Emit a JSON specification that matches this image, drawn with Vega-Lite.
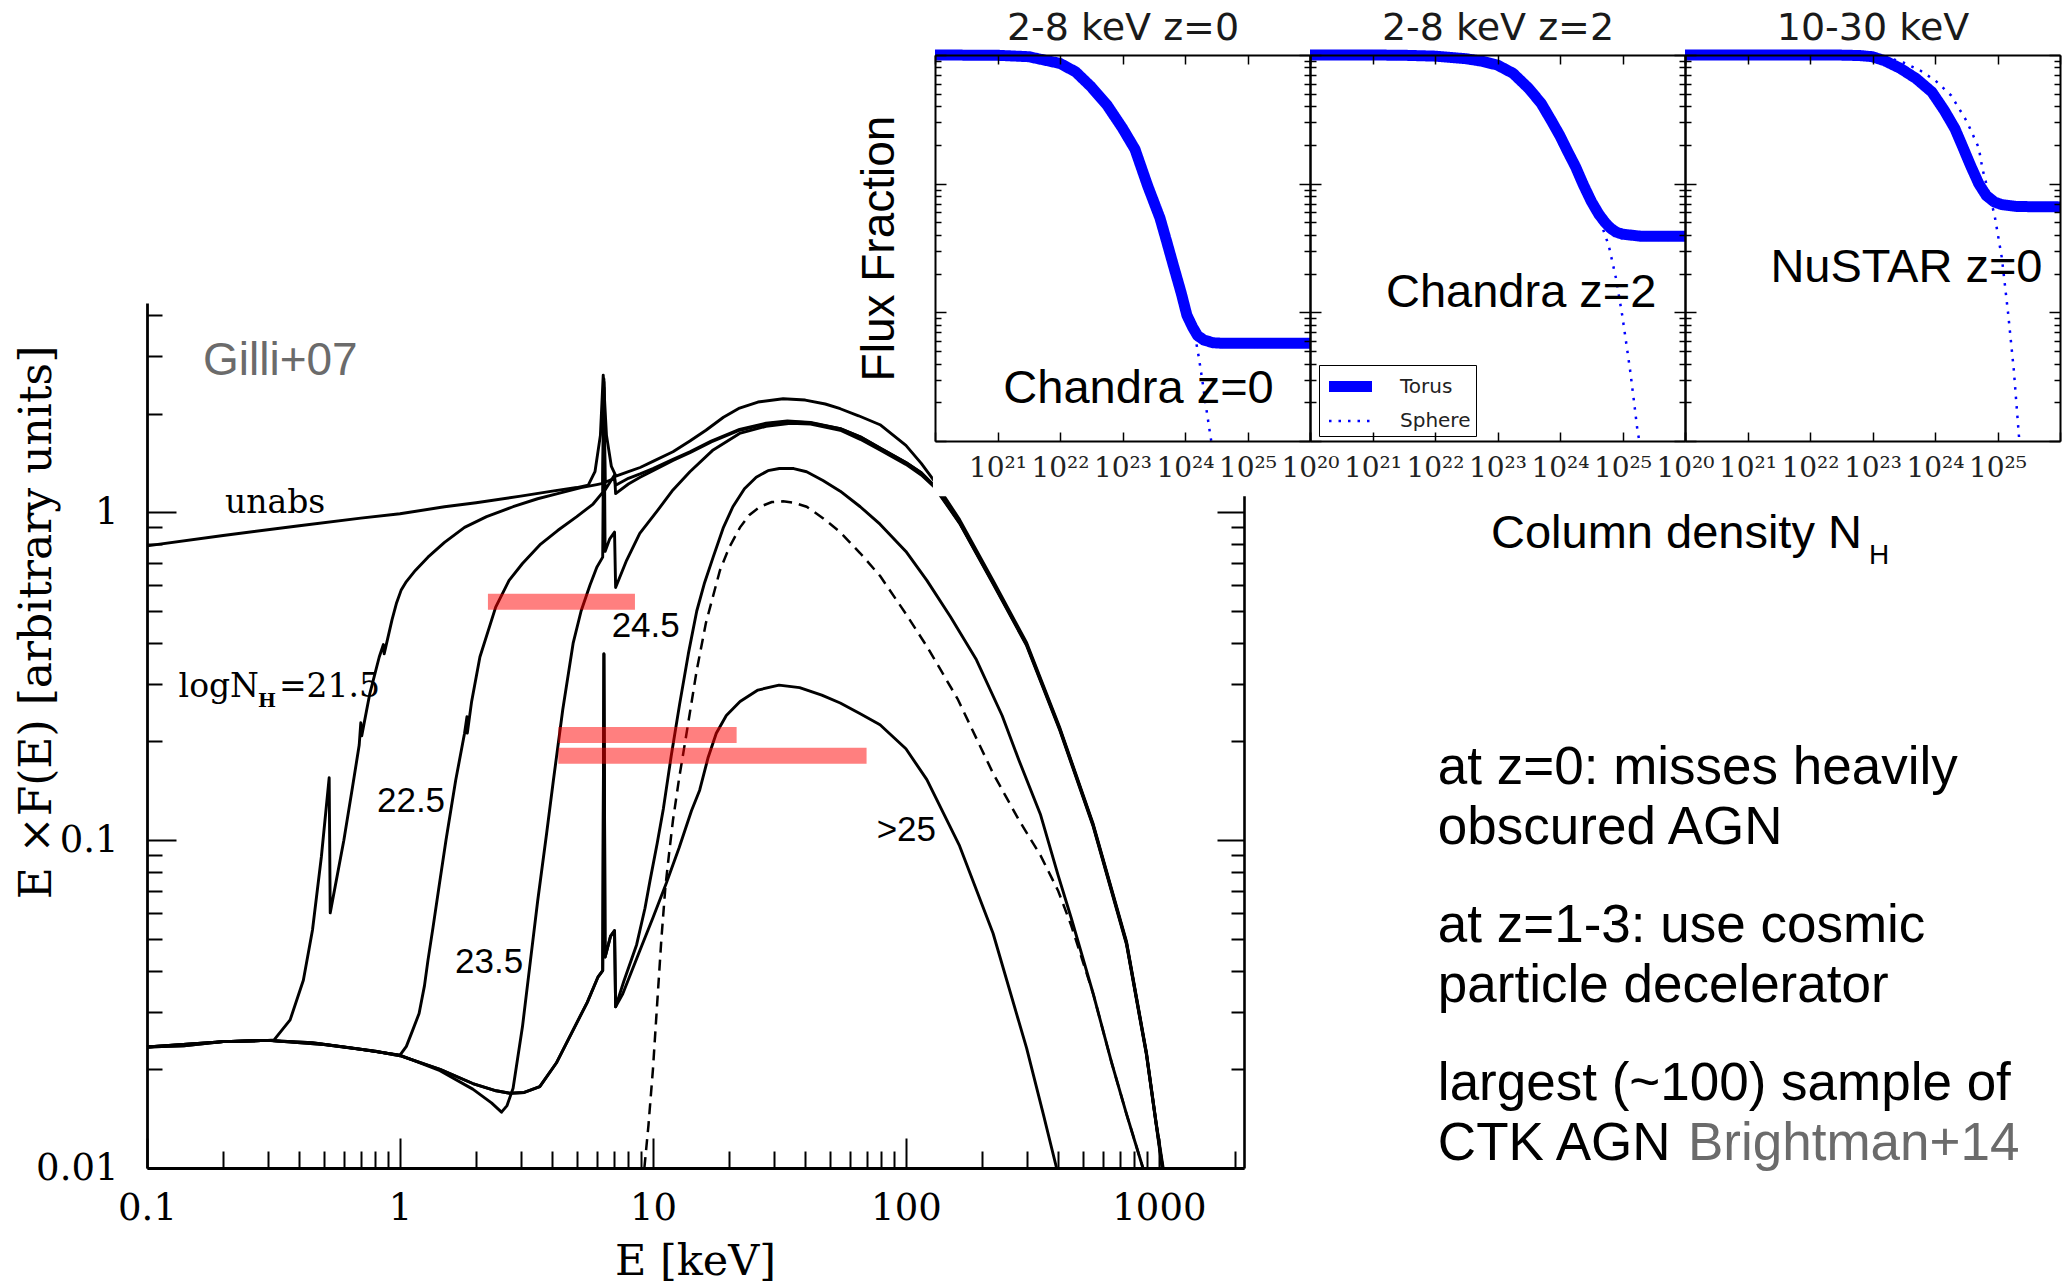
{
"$schema": "https://vega.github.io/schema/vega-lite/v6.json",
"width": 2064,
"height": 1287,
"autosize": {"type": "none"},
"padding": 0,
"background": "white",
"config": {
  "view": {"stroke": null},
  "font": "Liberation Sans",
  "axis": {"grid": false, "domainColor": "black", "tickColor": "black", "labelColor": "black", "titleColor": "black", "titleFontWeight": "normal", "labelOverlap": false, "labelFlush": false}
},
"datasets": {
  "spec": [
    {"curve":"unabs","E":0.1,"V":0.79},{"curve":"unabs","E":0.2,"V":0.85},{"curve":"unabs","E":0.4,"V":0.91},{"curve":"unabs","E":0.7,"V":0.96},{"curve":"unabs","E":1,"V":0.99},{"curve":"unabs","E":1.5,"V":1.04},{"curve":"unabs","E":2,"V":1.07},{"curve":"unabs","E":3,"V":1.12},{"curve":"unabs","E":4,"V":1.16},{"curve":"unabs","E":5,"V":1.19},{"curve":"unabs","E":5.55,"V":1.21},{"curve":"unabs","E":5.9,"V":1.33},{"curve":"unabs","E":6.2,"V":1.72},{"curve":"unabs","E":6.36,"V":2.62},{"curve":"unabs","E":6.55,"V":1.72},{"curve":"unabs","E":6.85,"V":1.38},{"curve":"unabs","E":7.14,"V":1.29},{"curve":"unabs","E":8,"V":1.33},{"curve":"unabs","E":8.9,"V":1.37},{"curve":"unabs","E":10,"V":1.43},{"curve":"unabs","E":12,"V":1.53},{"curve":"unabs","E":14,"V":1.65},{"curve":"unabs","E":16.2,"V":1.78},{"curve":"unabs","E":19,"V":1.95},{"curve":"unabs","E":22,"V":2.08},{"curve":"unabs","E":26,"V":2.17},{"curve":"unabs","E":32.7,"V":2.22},{"curve":"unabs","E":40,"V":2.2},{"curve":"unabs","E":48,"V":2.14},{"curve":"unabs","E":55,"V":2.07},{"curve":"unabs","E":65,"V":1.97},{"curve":"unabs","E":79,"V":1.85},{"curve":"unabs","E":100,"V":1.6},{"curve":"unabs","E":115,"V":1.41},{"curve":"unabs","E":130,"V":1.24},{"curve":"unabs","E":163,"V":0.95},{"curve":"unabs","E":221,"V":0.62},{"curve":"unabs","E":300,"V":0.4},{"curve":"unabs","E":406,"V":0.22},{"curve":"unabs","E":550,"V":0.112},{"curve":"unabs","E":745,"V":0.049},{"curve":"unabs","E":893,"V":0.0225},{"curve":"unabs","E":975,"V":0.0138},{"curve":"unabs","E":1040,"V":0.01},
    {"curve":"nh21.5","E":0.1,"V":0.0234},{"curve":"nh21.5","E":0.2,"V":0.0243},{"curve":"nh21.5","E":0.3,"V":0.0245},{"curve":"nh21.5","E":0.318,"V":0.0246},{"curve":"nh21.5","E":0.368,"V":0.0283},{"curve":"nh21.5","E":0.415,"V":0.0374},{"curve":"nh21.5","E":0.451,"V":0.0532},{"curve":"nh21.5","E":0.489,"V":0.089},{"curve":"nh21.5","E":0.525,"V":0.155},{"curve":"nh21.5","E":0.53,"V":0.06},{"curve":"nh21.5","E":0.6,"V":0.1},{"curve":"nh21.5","E":0.649,"V":0.145},{"curve":"nh21.5","E":0.69,"V":0.195},{"curve":"nh21.5","E":0.7,"V":0.228},{"curve":"nh21.5","E":0.706,"V":0.208},{"curve":"nh21.5","E":0.76,"V":0.28},{"curve":"nh21.5","E":0.828,"V":0.362},{"curve":"nh21.5","E":0.86,"V":0.395},{"curve":"nh21.5","E":0.866,"V":0.37},{"curve":"nh21.5","E":0.93,"V":0.47},{"curve":"nh21.5","E":0.97,"V":0.53},{"curve":"nh21.5","E":1.01,"V":0.578},{"curve":"nh21.5","E":1.06,"V":0.615},{"curve":"nh21.5","E":1.15,"V":0.665},{"curve":"nh21.5","E":1.29,"V":0.73},{"curve":"nh21.5","E":1.5,"V":0.81},{"curve":"nh21.5","E":1.8,"V":0.9},{"curve":"nh21.5","E":2.2,"V":0.97},{"curve":"nh21.5","E":2.8,"V":1.04},{"curve":"nh21.5","E":3.5,"V":1.1},{"curve":"nh21.5","E":4.2,"V":1.14},{"curve":"nh21.5","E":5.2,"V":1.19},{"curve":"nh21.5","E":6,"V":1.215},{"curve":"nh21.5","E":6.33,"V":1.225},{"curve":"nh21.5","E":6.4,"V":2.55},{"curve":"nh21.5","E":6.47,"V":1.235},{"curve":"nh21.5","E":7.05,"V":1.27},{"curve":"nh21.5","E":7.12,"V":1.21},{"curve":"nh21.5","E":8,"V":1.27},{"curve":"nh21.5","E":8.9,"V":1.31},{"curve":"nh21.5","E":10,"V":1.36},{"curve":"nh21.5","E":12,"V":1.45},{"curve":"nh21.5","E":14,"V":1.53},{"curve":"nh21.5","E":17,"V":1.65},{"curve":"nh21.5","E":22,"V":1.79},{"curve":"nh21.5","E":28,"V":1.87},{"curve":"nh21.5","E":34,"V":1.9},{"curve":"nh21.5","E":42,"V":1.88},{"curve":"nh21.5","E":55,"V":1.8},{"curve":"nh21.5","E":66,"V":1.7},{"curve":"nh21.5","E":79,"V":1.57},{"curve":"nh21.5","E":100,"V":1.42},{"curve":"nh21.5","E":115,"V":1.32},{"curve":"nh21.5","E":130,"V":1.2},{"curve":"nh21.5","E":163,"V":0.93},{"curve":"nh21.5","E":221,"V":0.61},{"curve":"nh21.5","E":300,"V":0.395},{"curve":"nh21.5","E":406,"V":0.218},{"curve":"nh21.5","E":550,"V":0.111},{"curve":"nh21.5","E":745,"V":0.0485},{"curve":"nh21.5","E":893,"V":0.0223},{"curve":"nh21.5","E":975,"V":0.0137},{"curve":"nh21.5","E":1035,"V":0.01},
    {"curve":"nh22.5","E":0.1,"V":0.0234},{"curve":"nh22.5","E":0.2,"V":0.0243},{"curve":"nh22.5","E":0.3,"V":0.0245},{"curve":"nh22.5","E":0.5,"V":0.0238},{"curve":"nh22.5","E":0.7,"V":0.023},{"curve":"nh22.5","E":1,"V":0.0221},{"curve":"nh22.5","E":1.06,"V":0.0235},{"curve":"nh22.5","E":1.12,"V":0.0262},{"curve":"nh22.5","E":1.19,"V":0.0296},{"curve":"nh22.5","E":1.25,"V":0.036},{"curve":"nh22.5","E":1.29,"V":0.043},{"curve":"nh22.5","E":1.35,"V":0.054},{"curve":"nh22.5","E":1.43,"V":0.073},{"curve":"nh22.5","E":1.52,"V":0.1},{"curve":"nh22.5","E":1.66,"V":0.152},{"curve":"nh22.5","E":1.8,"V":0.212},{"curve":"nh22.5","E":1.84,"V":0.238},{"curve":"nh22.5","E":1.846,"V":0.212},{"curve":"nh22.5","E":1.92,"V":0.265},{"curve":"nh22.5","E":2.07,"V":0.362},{"curve":"nh22.5","E":2.39,"V":0.514},{"curve":"nh22.5","E":2.7,"V":0.62},{"curve":"nh22.5","E":3.05,"V":0.698},{"curve":"nh22.5","E":3.6,"V":0.8},{"curve":"nh22.5","E":4.2,"V":0.88},{"curve":"nh22.5","E":5,"V":0.97},{"curve":"nh22.5","E":5.8,"V":1.06},{"curve":"nh22.5","E":6.33,"V":1.15},{"curve":"nh22.5","E":6.4,"V":2.5},{"curve":"nh22.5","E":6.47,"V":1.17},{"curve":"nh22.5","E":7.05,"V":1.3},{"curve":"nh22.5","E":7.12,"V":1.14},{"curve":"nh22.5","E":8,"V":1.22},{"curve":"nh22.5","E":8.9,"V":1.28},{"curve":"nh22.5","E":10,"V":1.34},{"curve":"nh22.5","E":12,"V":1.44},{"curve":"nh22.5","E":14,"V":1.52},{"curve":"nh22.5","E":17,"V":1.64},{"curve":"nh22.5","E":22,"V":1.78},{"curve":"nh22.5","E":28,"V":1.86},{"curve":"nh22.5","E":34,"V":1.89},{"curve":"nh22.5","E":42,"V":1.875},{"curve":"nh22.5","E":55,"V":1.8},{"curve":"nh22.5","E":66,"V":1.7},{"curve":"nh22.5","E":79,"V":1.57},{"curve":"nh22.5","E":100,"V":1.42},{"curve":"nh22.5","E":115,"V":1.32},{"curve":"nh22.5","E":130,"V":1.2},{"curve":"nh22.5","E":163,"V":0.93},{"curve":"nh22.5","E":221,"V":0.61},{"curve":"nh22.5","E":300,"V":0.395},{"curve":"nh22.5","E":406,"V":0.218},{"curve":"nh22.5","E":550,"V":0.111},{"curve":"nh22.5","E":745,"V":0.0485},{"curve":"nh22.5","E":893,"V":0.0223},{"curve":"nh22.5","E":975,"V":0.0137},{"curve":"nh22.5","E":1035,"V":0.01},
    {"curve":"nh23.5","E":0.1,"V":0.0234},{"curve":"nh23.5","E":0.2,"V":0.0243},{"curve":"nh23.5","E":0.3,"V":0.0245},{"curve":"nh23.5","E":0.5,"V":0.0238},{"curve":"nh23.5","E":0.7,"V":0.023},{"curve":"nh23.5","E":1,"V":0.0221},{"curve":"nh23.5","E":1.44,"V":0.0198},{"curve":"nh23.5","E":1.94,"V":0.0174},{"curve":"nh23.5","E":2.3,"V":0.0158},{"curve":"nh23.5","E":2.52,"V":0.0148},{"curve":"nh23.5","E":2.65,"V":0.0155},{"curve":"nh23.5","E":2.8,"V":0.0175},{"curve":"nh23.5","E":3.05,"V":0.027},{"curve":"nh23.5","E":3.28,"V":0.043},{"curve":"nh23.5","E":3.5,"V":0.065},{"curve":"nh23.5","E":3.8,"V":0.105},{"curve":"nh23.5","E":4.04,"V":0.152},{"curve":"nh23.5","E":4.4,"V":0.25},{"curve":"nh23.5","E":4.84,"V":0.4},{"curve":"nh23.5","E":5.2,"V":0.5},{"curve":"nh23.5","E":5.64,"V":0.6},{"curve":"nh23.5","E":6,"V":0.68},{"curve":"nh23.5","E":6.33,"V":0.73},{"curve":"nh23.5","E":6.4,"V":2.4},{"curve":"nh23.5","E":6.47,"V":0.76},{"curve":"nh23.5","E":6.75,"V":0.83},{"curve":"nh23.5","E":7.05,"V":0.87},{"curve":"nh23.5","E":7.12,"V":0.59},{"curve":"nh23.5","E":7.87,"V":0.714},{"curve":"nh23.5","E":8.87,"V":0.863},{"curve":"nh23.5","E":10.4,"V":1.01},{"curve":"nh23.5","E":12,"V":1.17},{"curve":"nh23.5","E":14,"V":1.33},{"curve":"nh23.5","E":17.3,"V":1.55},{"curve":"nh23.5","E":22,"V":1.74},{"curve":"nh23.5","E":28,"V":1.83},{"curve":"nh23.5","E":35,"V":1.87},{"curve":"nh23.5","E":42,"V":1.86},{"curve":"nh23.5","E":55,"V":1.78},{"curve":"nh23.5","E":66,"V":1.67},{"curve":"nh23.5","E":79,"V":1.55},{"curve":"nh23.5","E":100,"V":1.4},{"curve":"nh23.5","E":115,"V":1.3},{"curve":"nh23.5","E":130,"V":1.19},{"curve":"nh23.5","E":163,"V":0.925},{"curve":"nh23.5","E":221,"V":0.605},{"curve":"nh23.5","E":300,"V":0.392},{"curve":"nh23.5","E":406,"V":0.216},{"curve":"nh23.5","E":550,"V":0.11},{"curve":"nh23.5","E":745,"V":0.048},{"curve":"nh23.5","E":893,"V":0.0221},{"curve":"nh23.5","E":975,"V":0.0136},{"curve":"nh23.5","E":1030,"V":0.01},
    {"curve":"nh24.5","E":0.1,"V":0.0234},{"curve":"nh24.5","E":0.14,"V":0.0236},{"curve":"nh24.5","E":0.2,"V":0.0243},{"curve":"nh24.5","E":0.3,"V":0.0245},{"curve":"nh24.5","E":0.45,"V":0.0241},{"curve":"nh24.5","E":0.58,"V":0.0235},{"curve":"nh24.5","E":0.8,"V":0.0227},{"curve":"nh24.5","E":1,"V":0.022},{"curve":"nh24.5","E":1.44,"V":0.02},{"curve":"nh24.5","E":1.94,"V":0.0181},{"curve":"nh24.5","E":2.4,"V":0.0172},{"curve":"nh24.5","E":2.72,"V":0.0169},{"curve":"nh24.5","E":3.1,"V":0.017},{"curve":"nh24.5","E":3.57,"V":0.0177},{"curve":"nh24.5","E":4.15,"V":0.0209},{"curve":"nh24.5","E":4.84,"V":0.0264},{"curve":"nh24.5","E":5.5,"V":0.032},{"curve":"nh24.5","E":6.07,"V":0.0383},{"curve":"nh24.5","E":6.33,"V":0.04},{"curve":"nh24.5","E":6.4,"V":0.37},{"curve":"nh24.5","E":6.47,"V":0.044},{"curve":"nh24.5","E":6.8,"V":0.051},{"curve":"nh24.5","E":7.05,"V":0.053},{"curve":"nh24.5","E":7.12,"V":0.031},{"curve":"nh24.5","E":7.66,"V":0.037},{"curve":"nh24.5","E":8.62,"V":0.048},{"curve":"nh24.5","E":9.3,"V":0.062},{"curve":"nh24.5","E":9.73,"V":0.075},{"curve":"nh24.5","E":10.4,"V":0.098},{"curve":"nh24.5","E":11,"V":0.125},{"curve":"nh24.5","E":11.8,"V":0.18},{"curve":"nh24.5","E":12.75,"V":0.26},{"curve":"nh24.5","E":13.8,"V":0.37},{"curve":"nh24.5","E":14.9,"V":0.5},{"curve":"nh24.5","E":16,"V":0.61},{"curve":"nh24.5","E":17.3,"V":0.73},{"curve":"nh24.5","E":19,"V":0.9},{"curve":"nh24.5","E":20.7,"V":1.04},{"curve":"nh24.5","E":23,"V":1.18},{"curve":"nh24.5","E":25.6,"V":1.28},{"curve":"nh24.5","E":28.5,"V":1.34},{"curve":"nh24.5","E":31.6,"V":1.36},{"curve":"nh24.5","E":36,"V":1.36},{"curve":"nh24.5","E":40.5,"V":1.33},{"curve":"nh24.5","E":47,"V":1.25},{"curve":"nh24.5","E":55,"V":1.16},{"curve":"nh24.5","E":66,"V":1.04},{"curve":"nh24.5","E":79,"V":0.92},{"curve":"nh24.5","E":100,"V":0.76},{"curve":"nh24.5","E":121,"V":0.62},{"curve":"nh24.5","E":150,"V":0.48},{"curve":"nh24.5","E":190,"V":0.355},{"curve":"nh24.5","E":240,"V":0.24},{"curve":"nh24.5","E":280,"V":0.175},{"curve":"nh24.5","E":340,"V":0.12},{"curve":"nh24.5","E":400,"V":0.078},{"curve":"nh24.5","E":450,"V":0.058},{"curve":"nh24.5","E":550,"V":0.034},{"curve":"nh24.5","E":650,"V":0.021},{"curve":"nh24.5","E":745,"V":0.0146},{"curve":"nh24.5","E":865,"V":0.01},
    {"curve":"nh25","E":0.1,"V":0.0234},{"curve":"nh25","E":0.14,"V":0.0236},{"curve":"nh25","E":0.2,"V":0.0243},{"curve":"nh25","E":0.3,"V":0.0245},{"curve":"nh25","E":0.45,"V":0.0241},{"curve":"nh25","E":0.58,"V":0.0235},{"curve":"nh25","E":0.8,"V":0.0227},{"curve":"nh25","E":1,"V":0.022},{"curve":"nh25","E":1.44,"V":0.02},{"curve":"nh25","E":1.94,"V":0.0181},{"curve":"nh25","E":2.4,"V":0.0172},{"curve":"nh25","E":2.72,"V":0.0169},{"curve":"nh25","E":3.1,"V":0.017},{"curve":"nh25","E":3.57,"V":0.0177},{"curve":"nh25","E":4.15,"V":0.0209},{"curve":"nh25","E":4.84,"V":0.0264},{"curve":"nh25","E":5.5,"V":0.032},{"curve":"nh25","E":6.07,"V":0.0383},{"curve":"nh25","E":6.33,"V":0.04},{"curve":"nh25","E":6.4,"V":0.37},{"curve":"nh25","E":6.47,"V":0.044},{"curve":"nh25","E":6.8,"V":0.051},{"curve":"nh25","E":7.05,"V":0.053},{"curve":"nh25","E":7.12,"V":0.031},{"curve":"nh25","E":7.6,"V":0.034},{"curve":"nh25","E":8.87,"V":0.046},{"curve":"nh25","E":10,"V":0.058},{"curve":"nh25","E":11.3,"V":0.074},{"curve":"nh25","E":12.7,"V":0.095},{"curve":"nh25","E":14.2,"V":0.123},{"curve":"nh25","E":15.3,"V":0.142},{"curve":"nh25","E":16.5,"V":0.178},{"curve":"nh25","E":17.8,"V":0.212},{"curve":"nh25","E":19.5,"V":0.24},{"curve":"nh25","E":22.1,"V":0.265},{"curve":"nh25","E":26,"V":0.287},{"curve":"nh25","E":31.5,"V":0.297},{"curve":"nh25","E":38,"V":0.292},{"curve":"nh25","E":46.5,"V":0.277},{"curve":"nh25","E":55,"V":0.262},{"curve":"nh25","E":66,"V":0.243},{"curve":"nh25","E":79,"V":0.225},{"curve":"nh25","E":100,"V":0.19},{"curve":"nh25","E":121,"V":0.153},{"curve":"nh25","E":163,"V":0.096},{"curve":"nh25","E":221,"V":0.052},{"curve":"nh25","E":300,"V":0.0232},{"curve":"nh25","E":350,"V":0.0145},{"curve":"nh25","E":394,"V":0.01},
    {"curve":"refl","E":9.25,"V":0.01},{"curve":"refl","E":9.6,"V":0.0135},{"curve":"refl","E":10,"V":0.02},{"curve":"refl","E":10.4,"V":0.032},{"curve":"refl","E":10.8,"V":0.05},{"curve":"refl","E":11.2,"V":0.072},{"curve":"refl","E":11.6,"V":0.092},{"curve":"refl","E":12,"V":0.115},{"curve":"refl","E":12.7,"V":0.155},{"curve":"refl","E":13.5,"V":0.206},{"curve":"refl","E":14.9,"V":0.33},{"curve":"refl","E":16.2,"V":0.46},{"curve":"refl","E":18.4,"V":0.665},{"curve":"refl","E":20,"V":0.78},{"curve":"refl","E":22.1,"V":0.9},{"curve":"refl","E":24,"V":0.98},{"curve":"refl","E":26.5,"V":1.04},{"curve":"refl","E":29.5,"V":1.075},{"curve":"refl","E":32.7,"V":1.08},{"curve":"refl","E":36,"V":1.07},{"curve":"refl","E":40.5,"V":1.04},{"curve":"refl","E":47,"V":0.96},{"curve":"refl","E":55,"V":0.87},{"curve":"refl","E":66,"V":0.75},{"curve":"refl","E":79,"V":0.64},{"curve":"refl","E":100,"V":0.49},{"curve":"refl","E":121,"V":0.39},{"curve":"refl","E":160,"V":0.27},{"curve":"refl","E":221,"V":0.16},{"curve":"refl","E":280,"V":0.115},{"curve":"refl","E":340,"V":0.09},{"curve":"refl","E":400,"V":0.07},{"curve":"refl","E":450,"V":0.055},{"curve":"refl","E":550,"V":0.034},{"curve":"refl","E":650,"V":0.021},{"curve":"refl","E":745,"V":0.0146},{"curve":"refl","E":865,"V":0.01}
  ],
  "bars": [
    {"band":"2-8 keV, z=0","E1":2.227,"E2":8.49,"V":0.534},
    {"band":"2-8 keV, z=2","E1":4.224,"E2":21.42,"V":0.2094},
    {"band":"NuSTAR","E1":4.224,"E2":69.9,"V":0.181}
  ],
  "mask": [{"E1":127.9,"E2":5000000,"V1":1.119,"V2":45}],
  "labels": [
    {"g":"serif","E":0.2034,"V":0.995,"label":"unabs"},
    {"g":"serif","E":0.1333,"V":0.2735,"label":"logN"},
    {"g":"serif","E":0.3324,"V":0.2735,"label":"=21.5"},
    {"g":"sub","E":0.2747,"V":0.2549,"label":"H"},
    {"g":"sans","E":0.811,"V":0.122,"label":"22.5"},
    {"g":"sans","E":1.65,"V":0.03924,"label":"23.5"},
    {"g":"sans","E":6.866,"V":0.4168,"label":"24.5"},
    {"g":"sans","E":76.6,"V":0.0992,"label":">25"},
    {"g":"gilli","E":0.1665,"V":2.617,"label":"Gilli+07"},
    {"g":"note","E":12670,"V":0.1479,"label":"at z=0: misses heavily"},
    {"g":"note","E":12670,"V":0.097,"label":"obscured AGN"},
    {"g":"note","E":12670,"V":0.04898,"label":"at z=1-3: use cosmic"},
    {"g":"note","E":12670,"V":0.03214,"label":"particle decelerator"},
    {"g":"note","E":12670,"V":0.01612,"label":"largest (~100) sample of"},
    {"g":"note","E":12670,"V":0.01058,"label":"CTK AGN"},
    {"g":"bright","E":123500,"V":0.01058,"label":"Brightman+14"}
  ],
  "frac": [
    {"panel":1,"model":"Torus","nh":1e20,"frac":1},{"panel":1,"model":"Torus","nh":1e21,"frac":0.995},{"panel":1,"model":"Torus","nh":3.162e21,"frac":0.97},{"panel":1,"model":"Torus","nh":1e22,"frac":0.86},{"panel":1,"model":"Torus","nh":1.778e22,"frac":0.74},{"panel":1,"model":"Torus","nh":3.162e22,"frac":0.565},{"panel":1,"model":"Torus","nh":5.623e22,"frac":0.41},{"panel":1,"model":"Torus","nh":1e23,"frac":0.27},{"panel":1,"model":"Torus","nh":1.585e23,"frac":0.185},{"panel":1,"model":"Torus","nh":2.512e23,"frac":0.097},{"panel":1,"model":"Torus","nh":3.981e23,"frac":0.054},{"panel":1,"model":"Torus","nh":5.012e23,"frac":0.0365},{"panel":1,"model":"Torus","nh":6.607e23,"frac":0.0226},{"panel":1,"model":"Torus","nh":8.71e23,"frac":0.0141},{"panel":1,"model":"Torus","nh":1.072e24,"frac":0.0095},{"panel":1,"model":"Torus","nh":1.318e24,"frac":0.0077},{"panel":1,"model":"Torus","nh":1.585e24,"frac":0.0066},{"panel":1,"model":"Torus","nh":1.995e24,"frac":0.0061},{"panel":1,"model":"Torus","nh":2.818e24,"frac":0.0058},{"panel":1,"model":"Torus","nh":3.981e24,"frac":0.00575},{"panel":1,"model":"Torus","nh":1e26,"frac":0.00575},
    {"panel":1,"model":"Sphere","nh":1e20,"frac":1},{"panel":1,"model":"Sphere","nh":1e21,"frac":0.995},{"panel":1,"model":"Sphere","nh":3.162e21,"frac":0.97},{"panel":1,"model":"Sphere","nh":1e22,"frac":0.86},{"panel":1,"model":"Sphere","nh":1.778e22,"frac":0.74},{"panel":1,"model":"Sphere","nh":3.162e22,"frac":0.565},{"panel":1,"model":"Sphere","nh":5.623e22,"frac":0.41},{"panel":1,"model":"Sphere","nh":1e23,"frac":0.27},{"panel":1,"model":"Sphere","nh":1.585e23,"frac":0.185},{"panel":1,"model":"Sphere","nh":2.512e23,"frac":0.097},{"panel":1,"model":"Sphere","nh":3.981e23,"frac":0.054},{"panel":1,"model":"Sphere","nh":5.012e23,"frac":0.0365},{"panel":1,"model":"Sphere","nh":6.607e23,"frac":0.0226},{"panel":1,"model":"Sphere","nh":8.71e23,"frac":0.0141},{"panel":1,"model":"Sphere","nh":1.072e24,"frac":0.0097},{"panel":1,"model":"Sphere","nh":1.259e24,"frac":0.0082},{"panel":1,"model":"Sphere","nh":1.445e24,"frac":0.0066},{"panel":1,"model":"Sphere","nh":1.66e24,"frac":0.0045},{"panel":1,"model":"Sphere","nh":1.905e24,"frac":0.0029},{"panel":1,"model":"Sphere","nh":2.188e24,"frac":0.0018},{"panel":1,"model":"Sphere","nh":2.512e24,"frac":0.00115},{"panel":1,"model":"Sphere","nh":2.63e24,"frac":0.001},
    {"panel":2,"model":"Torus","nh":1e20,"frac":1},{"panel":2,"model":"Torus","nh":1e21,"frac":1},{"panel":2,"model":"Torus","nh":3.162e21,"frac":0.995},{"panel":2,"model":"Torus","nh":1e22,"frac":0.98},{"panel":2,"model":"Torus","nh":3.162e22,"frac":0.935},{"panel":2,"model":"Torus","nh":5.623e22,"frac":0.895},{"panel":2,"model":"Torus","nh":1e23,"frac":0.835},{"panel":2,"model":"Torus","nh":1.778e23,"frac":0.72},{"panel":2,"model":"Torus","nh":3.162e23,"frac":0.55},{"panel":2,"model":"Torus","nh":5.012e23,"frac":0.42},{"panel":2,"model":"Torus","nh":7.413e23,"frac":0.304},{"panel":2,"model":"Torus","nh":1e24,"frac":0.235},{"panel":2,"model":"Torus","nh":1.318e24,"frac":0.179},{"panel":2,"model":"Torus","nh":1.778e24,"frac":0.135},{"panel":2,"model":"Torus","nh":2.344e24,"frac":0.099},{"panel":2,"model":"Torus","nh":3.162e24,"frac":0.073},{"panel":2,"model":"Torus","nh":4.169e24,"frac":0.058},{"panel":2,"model":"Torus","nh":5.248e24,"frac":0.05},{"panel":2,"model":"Torus","nh":6.457e24,"frac":0.045},{"panel":2,"model":"Torus","nh":7.943e24,"frac":0.042},{"panel":2,"model":"Torus","nh":1e25,"frac":0.0405},{"panel":2,"model":"Torus","nh":1.995e25,"frac":0.039},{"panel":2,"model":"Torus","nh":1e26,"frac":0.039},
    {"panel":2,"model":"Sphere","nh":1e20,"frac":1},{"panel":2,"model":"Sphere","nh":1e21,"frac":1},{"panel":2,"model":"Sphere","nh":1e22,"frac":0.98},{"panel":2,"model":"Sphere","nh":3.162e22,"frac":0.937},{"panel":2,"model":"Sphere","nh":1e23,"frac":0.845},{"panel":2,"model":"Sphere","nh":1.778e23,"frac":0.735},{"panel":2,"model":"Sphere","nh":3.162e23,"frac":0.575},{"panel":2,"model":"Sphere","nh":5.012e23,"frac":0.45},{"panel":2,"model":"Sphere","nh":7.943e23,"frac":0.32},{"panel":2,"model":"Sphere","nh":1.259e24,"frac":0.205},{"panel":2,"model":"Sphere","nh":1.995e24,"frac":0.128},{"panel":2,"model":"Sphere","nh":3.162e24,"frac":0.078},{"panel":2,"model":"Sphere","nh":4.467e24,"frac":0.05},{"panel":2,"model":"Sphere","nh":6.026e24,"frac":0.033},{"panel":2,"model":"Sphere","nh":7.943e24,"frac":0.018},{"panel":2,"model":"Sphere","nh":1e25,"frac":0.0092},{"panel":2,"model":"Sphere","nh":1.318e25,"frac":0.0036},{"panel":2,"model":"Sphere","nh":1.514e25,"frac":0.0021},{"panel":2,"model":"Sphere","nh":1.738e25,"frac":0.0012},{"panel":2,"model":"Sphere","nh":1.862e25,"frac":0.001},
    {"panel":3,"model":"Torus","nh":1e20,"frac":1},{"panel":3,"model":"Torus","nh":1e22,"frac":1},{"panel":3,"model":"Torus","nh":3.162e22,"frac":0.998},{"panel":3,"model":"Torus","nh":6.31e22,"frac":0.99},{"panel":3,"model":"Torus","nh":1e23,"frac":0.97},{"panel":3,"model":"Torus","nh":1.585e23,"frac":0.9},{"panel":3,"model":"Torus","nh":2.754e23,"frac":0.79},{"panel":3,"model":"Torus","nh":5.012e23,"frac":0.655},{"panel":3,"model":"Torus","nh":8.913e23,"frac":0.516},{"panel":3,"model":"Torus","nh":1.413e24,"frac":0.37},{"panel":3,"model":"Torus","nh":2.089e24,"frac":0.267},{"panel":3,"model":"Torus","nh":2.818e24,"frac":0.19},{"panel":3,"model":"Torus","nh":3.715e24,"frac":0.138},{"panel":3,"model":"Torus","nh":5.012e24,"frac":0.1},{"panel":3,"model":"Torus","nh":6.607e24,"frac":0.081},{"panel":3,"model":"Torus","nh":8.913e24,"frac":0.072},{"panel":3,"model":"Torus","nh":1.175e25,"frac":0.0687},{"panel":3,"model":"Torus","nh":2.089e25,"frac":0.0664},{"panel":3,"model":"Torus","nh":1e26,"frac":0.066},
    {"panel":3,"model":"Sphere","nh":1e20,"frac":1},{"panel":3,"model":"Sphere","nh":1e22,"frac":1},{"panel":3,"model":"Sphere","nh":3.162e22,"frac":0.999},{"panel":3,"model":"Sphere","nh":1e23,"frac":0.985},{"panel":3,"model":"Sphere","nh":1.995e23,"frac":0.935},{"panel":3,"model":"Sphere","nh":3.162e23,"frac":0.87},{"panel":3,"model":"Sphere","nh":5.754e23,"frac":0.76},{"panel":3,"model":"Sphere","nh":1.023e24,"frac":0.63},{"panel":3,"model":"Sphere","nh":1.82e24,"frac":0.483},{"panel":3,"model":"Sphere","nh":3.236e24,"frac":0.304},{"panel":3,"model":"Sphere","nh":5.012e24,"frac":0.19},{"panel":3,"model":"Sphere","nh":5.754e24,"frac":0.13},{"panel":3,"model":"Sphere","nh":7.079e24,"frac":0.088},{"panel":3,"model":"Sphere","nh":8.913e24,"frac":0.058},{"panel":3,"model":"Sphere","nh":1.175e25,"frac":0.0264},{"panel":3,"model":"Sphere","nh":1.479e25,"frac":0.0098},{"panel":3,"model":"Sphere","nh":1.82e25,"frac":0.0036},{"panel":3,"model":"Sphere","nh":2.188e25,"frac":0.00114},{"panel":3,"model":"Sphere","nh":2.239e25,"frac":0.001}
  ],
  "ptext": [
    {"panel":1,"g":"big","nh":1.239e21,"frac":0.00196,"label":"Chandra z=0"},
    {"panel":2,"g":"big","nh":1.644e21,"frac":0.01101,"label":"Chandra z=2"},
    {"panel":3,"g":"big","nh":2.323e21,"frac":0.01714,"label":"NuSTAR z=0"},
    {"panel":2,"g":"big","nh":7.87e22,"frac":0.0001477,"label":"Column density N"},
    {"panel":3,"g":"small","nh":8.79e22,"frac":0.0001109,"label":"H"}
  ]
},
"layer": [
  {
    "layer": [
      {
        "data": {"name": "spec"},
        "transform": [{"filter": "datum.curve != 'refl'"}],
        "mark": {"type": "line", "color": "black", "strokeWidth": 2.9, "strokeJoin": "round"},
        "encoding": {
          "x": {"field": "E", "type": "quantitative",
                "scale": {"type": "log", "domain": [0.1, 2170], "range": [147, 1244], "nice": false},
                "axis": {"orient": "bottom", "offset": -119,
                         "values": [0.1,0.2,0.3,0.4,0.5,0.6,0.7,0.8,0.9,1,2,3,4,5,6,7,8,9,10,20,30,40,50,60,70,80,90,100,200,300,400,500,600,700,800,900,1000,2000],
                         "tickSize": {"condition": {"test": "abs(log(datum.value)/LN10 - round(log(datum.value)/LN10)) < 0.001", "value": -30}, "value": -17},
                         "tickWidth": 2, "domainWidth": 2.8,
                         "labelExpr": "abs(log(datum.value)/LN10 - round(log(datum.value)/LN10)) < 0.001 ? '' + datum.value : ''",
                         "labelFont": "DejaVu Serif", "labelFontSize": 37, "labelPadding": 70, "labelBaseline": "middle",
                         "title": "E [keV]", "titleFont": "DejaVu Serif", "titleFontSize": 43, "titleX": 695, "titleY": 93, "titleBaseline": "middle", "titleAlign": "center", "zindex": 0}},
          "y": {"field": "V", "type": "quantitative",
                "scale": {"type": "log", "domain": [0.01, 4.35], "range": [1168, 303], "nice": false},
                "axis": {"orient": "left", "offset": -147,
                         "values": [0.01,0.02,0.03,0.04,0.05,0.06,0.07,0.08,0.09,0.1,0.2,0.3,0.4,0.5,0.6,0.7,0.8,0.9,1,2,3,4],
                         "tickSize": {"condition": {"test": "abs(log(datum.value)/LN10 - round(log(datum.value)/LN10)) < 0.001", "value": -29}, "value": -15},
                         "tickWidth": 2, "domainWidth": 2.8,
                         "labelExpr": "abs(log(datum.value)/LN10 - round(log(datum.value)/LN10)) < 0.001 ? '' + datum.value : ''",
                         "labelFont": "DejaVu Serif", "labelFontSize": 37, "labelPadding": 58, "labelBaseline": "middle", "labelAlign": "right",
                         "title": "E ×F(E) [arbitrary units]", "titleFont": "DejaVu Serif", "titleFontSize": 44, "titleX": -110, "titleY": 622, "titleBaseline": "middle", "titleAlign": "center", "titleAngle": -90, "zindex": 0}},
          "detail": {"field": "curve", "type": "nominal"}
        }
      },
      {
        "data": {"name": "spec"},
        "transform": [{"filter": "datum.curve == 'refl'"}],
        "mark": {"type": "line", "color": "black", "strokeWidth": 2.5, "strokeDash": [11, 7]},
        "encoding": {
          "x": {"field": "E", "type": "quantitative", "axis": null},
          "y": {"field": "V", "type": "quantitative", "axis": null}
        }
      },
      {
        "data": {"name": "bars"},
        "mark": {"type": "rule", "color": "#ff0000", "opacity": 0.5, "strokeWidth": 16, "strokeCap": "butt"},
        "encoding": {
          "x": {"field": "E1", "type": "quantitative", "axis": null},
          "x2": {"field": "E2"},
          "y": {"field": "V", "type": "quantitative",
                "axis": {"orient": "right", "offset": -820,
                         "values": [0.01,0.02,0.03,0.04,0.05,0.06,0.07,0.08,0.09,0.1,0.2,0.3,0.4,0.5,0.6,0.7,0.8,0.9,1,2,3,4],
                         "tickSize": {"condition": {"test": "abs(log(datum.value)/LN10 - round(log(datum.value)/LN10)) < 0.001", "value": -27}, "value": -13},
                         "tickWidth": 2, "domainWidth": 2.6, "labels": false, "title": null, "zindex": 0}}
        }
      },
      {
        "data": {"name": "labels"},
        "transform": [{"filter": "datum.g == 'serif'"}],
        "mark": {"type": "text", "font": "DejaVu Serif", "fontSize": 33, "align": "left", "baseline": "alphabetic", "color": "black"},
        "encoding": {"x": {"field": "E", "type": "quantitative", "axis": null}, "y": {"field": "V", "type": "quantitative", "axis": null}, "text": {"field": "label", "type": "nominal"}}
      },
      {
        "data": {"name": "labels"},
        "transform": [{"filter": "datum.g == 'sub'"}],
        "mark": {"type": "text", "font": "DejaVu Serif", "fontSize": 19, "fontWeight": "bold", "align": "left", "baseline": "alphabetic", "color": "black"},
        "encoding": {"x": {"field": "E", "type": "quantitative", "axis": null}, "y": {"field": "V", "type": "quantitative", "axis": null}, "text": {"field": "label", "type": "nominal"}}
      },
      {
        "data": {"name": "labels"},
        "transform": [{"filter": "datum.g == 'sans'"}],
        "mark": {"type": "text", "font": "Liberation Sans", "fontSize": 35, "align": "left", "baseline": "alphabetic", "color": "black"},
        "encoding": {"x": {"field": "E", "type": "quantitative", "axis": null}, "y": {"field": "V", "type": "quantitative", "axis": null}, "text": {"field": "label", "type": "nominal"}}
      },
      {
        "data": {"name": "labels"},
        "transform": [{"filter": "datum.g == 'gilli'"}],
        "mark": {"type": "text", "font": "Liberation Sans", "fontSize": 46, "align": "left", "baseline": "alphabetic", "color": "#6b6b6b"},
        "encoding": {"x": {"field": "E", "type": "quantitative", "axis": null}, "y": {"field": "V", "type": "quantitative", "axis": null}, "text": {"field": "label", "type": "nominal"}}
      },
      {
        "data": {"name": "labels"},
        "transform": [{"filter": "datum.g == 'note'"}],
        "mark": {"type": "text", "font": "Liberation Sans", "fontSize": 53, "align": "left", "baseline": "alphabetic", "color": "black"},
        "encoding": {"x": {"field": "E", "type": "quantitative", "axis": null}, "y": {"field": "V", "type": "quantitative", "axis": null}, "text": {"field": "label", "type": "nominal"}}
      },
      {
        "data": {"name": "labels"},
        "transform": [{"filter": "datum.g == 'bright'"}],
        "mark": {"type": "text", "font": "Liberation Sans", "fontSize": 53, "align": "left", "baseline": "alphabetic", "color": "#6b6b6b"},
        "encoding": {"x": {"field": "E", "type": "quantitative", "axis": null}, "y": {"field": "V", "type": "quantitative", "axis": null}, "text": {"field": "label", "type": "nominal"}}
      },
      {
        "data": {"name": "mask"},
        "mark": {"type": "rect", "color": "white", "opacity": 1},
        "encoding": {
          "x": {"field": "E1", "type": "quantitative", "axis": null}, "x2": {"field": "E2"},
          "y": {"field": "V1", "type": "quantitative", "axis": null}, "y2": {"field": "V2"}
        }
      }
    ],
    "resolve": {"axis": {"x": "independent", "y": "independent"}}
  },
  {
    "layer": [
      {
        "data": {"name": "frac"},
        "transform": [{"filter": "datum.panel == 1 && datum.model == 'Torus'"}],
        "mark": {"type": "line", "strokeJoin": "round", "strokeCap": "butt"},
        "encoding": {
          "x": {"field": "nh", "type": "quantitative",
                "scale": {"type": "log", "domain": [1e20, 1e26], "range": [935, 1310], "nice": false},
                "axis": {"orient": "bottom", "offset": -846, "values": [1e20,1e21,1e22,1e23,1e24,1e25,1e26],
                         "tickSize": -9, "tickWidth": 1.5, "domainWidth": 2,
                         "labelExpr": "round(log(datum.value)/LN10) >= 26 || round(log(datum.value)/LN10) <= 20 ? '' : '10²' + substring('⁰¹²³⁴⁵⁶⁷⁸⁹', round(log(datum.value)/LN10) - 20, round(log(datum.value)/LN10) - 19)",
                         "labelFont": "DejaVu Serif", "labelFontSize": 28, "labelColor": "#222222", "labelPadding": 36, "labelBaseline": "middle",
                         "title": null, "zindex": 1}},
          "y": {"field": "frac", "type": "quantitative",
                "scale": {"type": "log", "domain": [0.001, 1], "range": [441, 55], "nice": false},
                "axis": {"orient": "left", "offset": -935,
                         "values": [0.001,0.002,0.003,0.004,0.005,0.006,0.007,0.008,0.009,0.01,0.02,0.03,0.04,0.05,0.06,0.07,0.08,0.09,0.1,0.2,0.3,0.4,0.5,0.6,0.7,0.8,0.9,1],
                         "tickSize": {"condition": {"test": "abs(log(datum.value)/LN10 - round(log(datum.value)/LN10)) < 0.001", "value": -11}, "value": -6},
                         "tickWidth": 1.5, "domainWidth": 2, "labels": false,
                         "title": "Flux Fraction", "titleFont": "Liberation Sans", "titleFontSize": 46, "titleX": -56, "titleY": 248, "titleBaseline": "middle", "titleAlign": "center", "titleAngle": -90, "zindex": 1}},
          "color": {"field": "model", "type": "nominal", "scale": {"domain": ["Torus", "Sphere"], "range": ["#0000ff", "#0000ff"]},
                    "legend": {"orient": "none", "legendX": 1319, "legendY": 365, "title": null, "symbolType": "M-2,0L2,0", "symbolSize": 462, "symbolOffset": 10, "labelFont": "DejaVu Sans", "labelFontSize": 20, "labelColor": "#222222", "labelOffset": 33, "rowPadding": 0, "padding": 5, "strokeColor": "black", "fillColor": "white"}},
          "strokeDash": {"field": "model", "type": "nominal", "scale": {"domain": ["Torus", "Sphere"], "range": [[1, 0], [2.5, 7]]},
                    "legend": {"orient": "none", "legendX": 1319, "legendY": 365, "title": null, "symbolType": "M-2,0L2,0", "symbolSize": 462, "symbolOffset": 10, "labelFont": "DejaVu Sans", "labelFontSize": 20, "labelColor": "#222222", "labelOffset": 33, "rowPadding": 0, "padding": 5, "strokeColor": "black", "fillColor": "white"}},
          "strokeWidth": {"field": "model", "type": "nominal", "scale": {"domain": ["Torus", "Sphere"], "range": [11, 2.5]},
                    "legend": {"orient": "none", "legendX": 1319, "legendY": 365, "title": null, "symbolType": "M-2,0L2,0", "symbolSize": 462, "symbolOffset": 10, "labelFont": "DejaVu Sans", "labelFontSize": 20, "labelColor": "#222222", "labelOffset": 33, "rowPadding": 0, "padding": 5, "strokeColor": "black", "fillColor": "white"}}
        }
      },
      {
        "data": {"name": "frac"},
        "transform": [{"filter": "datum.panel == 1 && datum.model == 'Sphere'"}],
        "mark": {"type": "line", "strokeCap": "butt"},
        "encoding": {
          "x": {"field": "nh", "type": "quantitative",
                "axis": {"orient": "top", "offset": -55, "values": [1e20,1e21,1e22,1e23,1e24,1e25,1e26],
                         "tickSize": -9, "tickWidth": 1.5, "domainWidth": 2, "labels": false,
                         "title": "2-8 keV z=0", "titleFont": "DejaVu Sans", "titleFontSize": 38, "titleColor": "#1a1a1a", "titleBaseline": "alphabetic", "titleY": -16, "zindex": 1}},
          "y": {"field": "frac", "type": "quantitative",
                "axis": {"orient": "right", "offset": -754,
                         "values": [0.001,0.002,0.003,0.004,0.005,0.006,0.007,0.008,0.009,0.01,0.02,0.03,0.04,0.05,0.06,0.07,0.08,0.09,0.1,0.2,0.3,0.4,0.5,0.6,0.7,0.8,0.9,1],
                         "tickSize": {"condition": {"test": "abs(log(datum.value)/LN10 - round(log(datum.value)/LN10)) < 0.001", "value": -11}, "value": -6},
                         "tickWidth": 1.5, "domainWidth": 2, "labels": false, "title": null, "zindex": 1}},
          "color": {"field": "model", "type": "nominal"},
          "strokeDash": {"field": "model", "type": "nominal"},
          "strokeWidth": {"field": "model", "type": "nominal"}
        }
      },
      {
        "data": {"name": "ptext"},
        "transform": [{"filter": "datum.panel == 1 && datum.g == 'big'"}],
        "mark": {"type": "text", "font": "Liberation Sans", "fontSize": 47, "align": "left", "baseline": "alphabetic", "color": "black"},
        "encoding": {"x": {"field": "nh", "type": "quantitative", "axis": null}, "y": {"field": "frac", "type": "quantitative", "axis": null}, "text": {"field": "label", "type": "nominal"}}
      }
    ],
    "resolve": {"axis": {"x": "independent", "y": "independent"}}
  },
  {
    "layer": [
      {
        "data": {"name": "frac"},
        "transform": [{"filter": "datum.panel == 2 && datum.model == 'Torus'"}],
        "mark": {"type": "line", "strokeJoin": "round", "strokeCap": "butt"},
        "encoding": {
          "x": {"field": "nh", "type": "quantitative",
                "scale": {"type": "log", "domain": [1e20, 1e26], "range": [1310, 1685], "nice": false},
                "axis": {"orient": "bottom", "offset": -846, "values": [1e20,1e21,1e22,1e23,1e24,1e25,1e26],
                         "tickSize": -9, "tickWidth": 1.5, "domainWidth": 2,
                         "labelExpr": "round(log(datum.value)/LN10) >= 26 ? '' : '10²' + substring('⁰¹²³⁴⁵⁶⁷⁸⁹', round(log(datum.value)/LN10) - 20, round(log(datum.value)/LN10) - 19)",
                         "labelFont": "DejaVu Serif", "labelFontSize": 28, "labelColor": "#222222", "labelPadding": 36, "labelBaseline": "middle",
                         "title": null, "zindex": 1}},
          "y": {"field": "frac", "type": "quantitative",
                "scale": {"type": "log", "domain": [0.001, 1], "range": [441, 55], "nice": false},
                "axis": {"orient": "left", "offset": -1310,
                         "values": [0.001,0.002,0.003,0.004,0.005,0.006,0.007,0.008,0.009,0.01,0.02,0.03,0.04,0.05,0.06,0.07,0.08,0.09,0.1,0.2,0.3,0.4,0.5,0.6,0.7,0.8,0.9,1],
                         "tickSize": {"condition": {"test": "abs(log(datum.value)/LN10 - round(log(datum.value)/LN10)) < 0.001", "value": -11}, "value": -6},
                         "tickWidth": 1.5, "domainWidth": 2, "labels": false, "title": null, "zindex": 1}},
          "color": {"field": "model", "type": "nominal"},
          "strokeDash": {"field": "model", "type": "nominal"},
          "strokeWidth": {"field": "model", "type": "nominal"}
        }
      },
      {
        "data": {"name": "frac"},
        "transform": [{"filter": "datum.panel == 2 && datum.model == 'Sphere'"}],
        "mark": {"type": "line", "strokeCap": "butt"},
        "encoding": {
          "x": {"field": "nh", "type": "quantitative",
                "axis": {"orient": "top", "offset": -55, "values": [1e20,1e21,1e22,1e23,1e24,1e25,1e26],
                         "tickSize": -9, "tickWidth": 1.5, "domainWidth": 2, "labels": false,
                         "title": "2-8 keV z=2", "titleFont": "DejaVu Sans", "titleFontSize": 38, "titleColor": "#1a1a1a", "titleBaseline": "alphabetic", "titleY": -16, "zindex": 1}},
          "y": {"field": "frac", "type": "quantitative",
                "axis": {"orient": "right", "offset": -379,
                         "values": [0.001,0.002,0.003,0.004,0.005,0.006,0.007,0.008,0.009,0.01,0.02,0.03,0.04,0.05,0.06,0.07,0.08,0.09,0.1,0.2,0.3,0.4,0.5,0.6,0.7,0.8,0.9,1],
                         "tickSize": {"condition": {"test": "abs(log(datum.value)/LN10 - round(log(datum.value)/LN10)) < 0.001", "value": -11}, "value": -6},
                         "tickWidth": 1.5, "domainWidth": 2, "labels": false, "title": null, "zindex": 1}},
          "color": {"field": "model", "type": "nominal"},
          "strokeDash": {"field": "model", "type": "nominal"},
          "strokeWidth": {"field": "model", "type": "nominal"}
        }
      },
      {
        "data": {"name": "ptext"},
        "transform": [{"filter": "datum.panel == 2 && datum.g == 'big'"}],
        "mark": {"type": "text", "font": "Liberation Sans", "fontSize": 47, "align": "left", "baseline": "alphabetic", "color": "black"},
        "encoding": {"x": {"field": "nh", "type": "quantitative", "axis": null}, "y": {"field": "frac", "type": "quantitative", "axis": null}, "text": {"field": "label", "type": "nominal"}}
      }
    ],
    "resolve": {"axis": {"x": "independent", "y": "independent"}}
  },
  {
    "layer": [
      {
        "data": {"name": "frac"},
        "transform": [{"filter": "datum.panel == 3 && datum.model == 'Torus'"}],
        "mark": {"type": "line", "strokeJoin": "round", "strokeCap": "butt"},
        "encoding": {
          "x": {"field": "nh", "type": "quantitative",
                "scale": {"type": "log", "domain": [1e20, 1e26], "range": [1685, 2060], "nice": false},
                "axis": {"orient": "bottom", "offset": -846, "values": [1e20,1e21,1e22,1e23,1e24,1e25,1e26],
                         "tickSize": -9, "tickWidth": 1.5, "domainWidth": 2,
                         "labelExpr": "round(log(datum.value)/LN10) >= 26 ? '' : '10²' + substring('⁰¹²³⁴⁵⁶⁷⁸⁹', round(log(datum.value)/LN10) - 20, round(log(datum.value)/LN10) - 19)",
                         "labelFont": "DejaVu Serif", "labelFontSize": 28, "labelColor": "#222222", "labelPadding": 36, "labelBaseline": "middle",
                         "title": null, "zindex": 1}},
          "y": {"field": "frac", "type": "quantitative",
                "scale": {"type": "log", "domain": [0.001, 1], "range": [441, 55], "nice": false},
                "axis": {"orient": "left", "offset": -1685,
                         "values": [0.001,0.002,0.003,0.004,0.005,0.006,0.007,0.008,0.009,0.01,0.02,0.03,0.04,0.05,0.06,0.07,0.08,0.09,0.1,0.2,0.3,0.4,0.5,0.6,0.7,0.8,0.9,1],
                         "tickSize": {"condition": {"test": "abs(log(datum.value)/LN10 - round(log(datum.value)/LN10)) < 0.001", "value": -11}, "value": -6},
                         "tickWidth": 1.5, "domainWidth": 2, "labels": false, "title": null, "zindex": 1}},
          "color": {"field": "model", "type": "nominal"},
          "strokeDash": {"field": "model", "type": "nominal"},
          "strokeWidth": {"field": "model", "type": "nominal"}
        }
      },
      {
        "data": {"name": "frac"},
        "transform": [{"filter": "datum.panel == 3 && datum.model == 'Sphere'"}],
        "mark": {"type": "line", "strokeCap": "butt"},
        "encoding": {
          "x": {"field": "nh", "type": "quantitative",
                "axis": {"orient": "top", "offset": -55, "values": [1e20,1e21,1e22,1e23,1e24,1e25,1e26],
                         "tickSize": -9, "tickWidth": 1.5, "domainWidth": 2, "labels": false,
                         "title": "10-30 keV", "titleFont": "DejaVu Sans", "titleFontSize": 38, "titleColor": "#1a1a1a", "titleBaseline": "alphabetic", "titleY": -16, "zindex": 1}},
          "y": {"field": "frac", "type": "quantitative",
                "axis": {"orient": "right", "offset": -4,
                         "values": [0.001,0.002,0.003,0.004,0.005,0.006,0.007,0.008,0.009,0.01,0.02,0.03,0.04,0.05,0.06,0.07,0.08,0.09,0.1,0.2,0.3,0.4,0.5,0.6,0.7,0.8,0.9,1],
                         "tickSize": {"condition": {"test": "abs(log(datum.value)/LN10 - round(log(datum.value)/LN10)) < 0.001", "value": -11}, "value": -6},
                         "tickWidth": 1.5, "domainWidth": 2, "labels": false, "title": null, "zindex": 1}},
          "color": {"field": "model", "type": "nominal"},
          "strokeDash": {"field": "model", "type": "nominal"},
          "strokeWidth": {"field": "model", "type": "nominal"}
        }
      },
      {
        "data": {"name": "ptext"},
        "transform": [{"filter": "datum.panel == 3 && datum.g == 'big'"}],
        "mark": {"type": "text", "font": "Liberation Sans", "fontSize": 47, "align": "left", "baseline": "alphabetic", "color": "black"},
        "encoding": {"x": {"field": "nh", "type": "quantitative", "axis": null}, "y": {"field": "frac", "type": "quantitative", "axis": null}, "text": {"field": "label", "type": "nominal"}}
      },
      {
        "data": {"name": "ptext"},
        "transform": [{"filter": "datum.panel == 3 && datum.g == 'small'"}],
        "mark": {"type": "text", "font": "Liberation Sans", "fontSize": 28, "align": "left", "baseline": "alphabetic", "color": "black"},
        "encoding": {"x": {"field": "nh", "type": "quantitative", "axis": null}, "y": {"field": "frac", "type": "quantitative", "axis": null}, "text": {"field": "label", "type": "nominal"}}
      }
    ],
    "resolve": {"axis": {"x": "independent", "y": "independent"}}
  }
],
"resolve": {"scale": {"x": "independent", "y": "independent"}, "axis": {"x": "independent", "y": "independent"}}
}
